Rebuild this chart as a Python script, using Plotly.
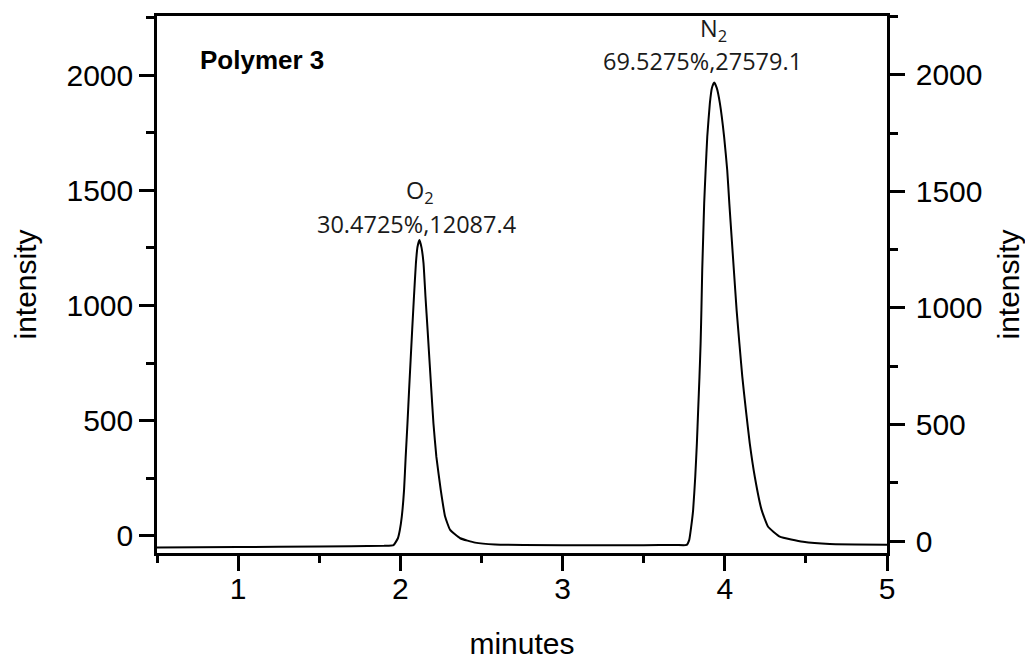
import plotly.graph_objects as go

# Chromatogram trace (retention time in minutes, detector intensity)
minutes = [
    0.50, 1.00, 1.50, 1.90, 1.958, 1.985, 1.997, 2.009, 2.023, 2.033, 2.044,
    2.054, 2.073, 2.084, 2.096, 2.106, 2.118, 2.131, 2.143, 2.155, 2.168,
    2.191, 2.204, 2.222, 2.249, 2.276, 2.307, 2.369, 2.461, 2.584, 3.00,
    3.50, 3.70, 3.765, 3.781, 3.793, 3.805, 3.818, 3.828, 3.836, 3.844,
    3.851, 3.856, 3.861, 3.867, 3.873, 3.882, 3.892, 3.908, 3.921, 3.935,
    3.951, 3.970, 3.996, 4.015, 4.028, 4.042, 4.056, 4.073, 4.090, 4.108,
    4.130, 4.154, 4.185, 4.227, 4.267, 4.339, 4.483, 4.647, 5.00,
]
intensity = [
    -50, -48, -46, -43, -40, -10, 26, 84, 200, 344, 489,
    633, 894, 1038, 1183, 1255, 1284, 1250, 1183, 1038, 894,
    633, 489, 344, 200, 84, 26, -10, -29, -37, -40,
    -40, -39, -39, -17, 40, 113, 257, 402, 547, 691,
    836, 984, 1154, 1298, 1443, 1588, 1732, 1877, 1945, 1968,
    1943, 1877, 1732, 1588, 1443, 1298, 1154, 980, 836, 691,
    547, 402, 257, 113, 40, -3, -25, -35, -38,
]

# Peak annotations: gas, label text, label anchor (minutes, intensity)
peak_names = ["O<sub>2</sub>", "N<sub>2</sub>"]
peak_labels = ["30.4725%,12087.4", "69.5275%,27579.1"]
name_pos = [(2.122, 1494), (3.933, 2196)]
label_pos = [(2.098, 1353), (3.865, 2062)]

x_ticks = [1, 2, 3, 4, 5]
y_ticks = [0, 500, 1000, 1500, 2000]

AX_FONT = dict(family="Liberation Sans, Arial, sans-serif", size=30, color="black")
LBL_FONT = dict(family="Open Sans, Noto Sans, sans-serif", size=23.5, color="#1a1a1a")

fig = go.Figure()
fig.add_trace(go.Scatter(
    x=minutes, y=intensity, mode="lines",
    line=dict(color="black", width=2, shape="spline", smoothing=0.4),
    showlegend=False, hoverinfo="skip",
))
# empty series bound to the right-hand intensity axis so it is rendered
fig.add_trace(go.Scatter(x=[None], y=[None], yaxis="y2", mode="lines",
                         showlegend=False, hoverinfo="skip"))

annotations = []
for (nx, ny), name in zip(name_pos, peak_names):
    annotations.append(dict(x=nx, y=ny, xref="x", yref="y", text=name,
                            showarrow=False, font=LBL_FONT,
                            xanchor="center", yanchor="middle"))
for (lx, ly), lab in zip(label_pos, peak_labels):
    annotations.append(dict(x=lx, y=ly, xref="x", yref="y", text=lab,
                            showarrow=False, font=LBL_FONT,
                            xanchor="center", yanchor="middle"))
annotations.append(dict(x=1.15, y=2063, xref="x", yref="y", text="<b>Polymer 3</b>",
                        showarrow=False,
                        font=dict(family="Liberation Sans, Arial, sans-serif",
                                  size=26, color="black"),
                        xanchor="center", yanchor="middle"))

axis_common = dict(
    showline=True, linecolor="black", linewidth=2.5,
    ticks="outside", ticklen=15, tickwidth=2.5, tickcolor="black",
    tickfont=AX_FONT, showgrid=False, zeroline=False, automargin=False,
)

fig.update_layout(
    width=1025, height=660,
    margin=dict(l=156.5, r=137.7, t=16, b=107),
    paper_bgcolor="white", plot_bgcolor="white",
    annotations=annotations,
    xaxis=dict(
        range=[0.5, 5], tickvals=x_ticks, mirror=True, ticklabelstandoff=-8,
        minor=dict(dtick=0.5, tick0=0.5, ticks="outside", ticklen=7,
                   tickwidth=2.5, tickcolor="black"),
        title=dict(text="minutes", font=AX_FONT, standoff=43),
        **axis_common,
    ),
    yaxis=dict(
        range=[-74, 2256], tickvals=y_ticks,
        minor=dict(dtick=250, tick0=0, ticks="outside", ticklen=8,
                   tickwidth=2.5, tickcolor="black"),
        title=dict(text="intensity", font=AX_FONT, standoff=22),
        **axis_common,
    ),
    yaxis2=dict(
        range=[-51.5, 2253], tickvals=y_ticks, overlaying="y", side="right",
        anchor="x", ticklabelstandoff=5,
        minor=dict(dtick=250, tick0=0, ticks="outside", ticklen=8,
                   tickwidth=2.5, tickcolor="black"),
        title=dict(text="intensity", font=AX_FONT, standoff=20),
        **axis_common,
    ),
)

fig.write_html("out.html")
